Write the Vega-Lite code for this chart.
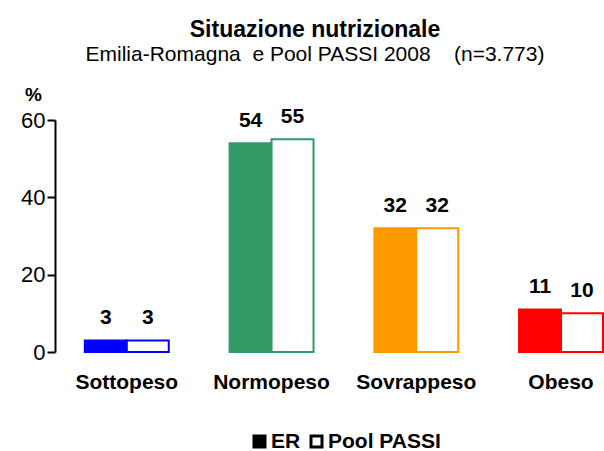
{
  "$schema": "https://vega.github.io/schema/vega-lite/v6.json",
  "autosize": "none",
  "width": 548,
  "height": 232,
  "padding": {"left": 55, "top": 120, "right": 1, "bottom": 99},
  "background": "white",
  "config": {
    "font": "Liberation Sans",
    "view": {"stroke": null}
  },
  "title": {
    "text": "Situazione nutrizionale",
    "subtitle": "Emilia-Romagna\u00a0\u00a0e Pool PASSI 2008\u00a0\u00a0\u00a0\u00a0(n=3.773)",
    "anchor": "middle",
    "frame": "group",
    "dx": -14,
    "offset": 20,
    "fontSize": 23,
    "fontWeight": "bold",
    "color": "black",
    "subtitleFontSize": 21,
    "subtitleColor": "black",
    "subtitlePadding": 2,
    "font": "Liberation Sans",
    "subtitleFont": "Liberation Sans"
  },
  "data": {
    "values": [
      {"cat": "Sottopeso", "serie": "ER", "value": 3},
      {"cat": "Sottopeso", "serie": "Pool PASSI", "value": 3},
      {"cat": "Normopeso", "serie": "ER", "value": 54},
      {"cat": "Normopeso", "serie": "Pool PASSI", "value": 55},
      {"cat": "Sovrappeso", "serie": "ER", "value": 32},
      {"cat": "Sovrappeso", "serie": "Pool PASSI", "value": 32},
      {"cat": "Obeso", "serie": "ER", "value": 11},
      {"cat": "Obeso", "serie": "Pool PASSI", "value": 10}
    ]
  },
  "encoding": {
    "x": {
      "field": "cat",
      "type": "nominal",
      "sort": ["Sottopeso", "Normopeso", "Sovrappeso", "Obeso"],
      "scale": {"paddingInner": 0.42, "paddingOuter": 0.103, "align": 1},
      "axis": {
        "title": null,
        "domain": false,
        "ticks": false,
        "labelAngle": 0,
        "labelFontSize": 21,
        "labelFontWeight": "bold",
        "labelColor": "black",
        "labelPadding": 19
      }
    },
    "xOffset": {
      "field": "serie",
      "type": "nominal",
      "scale": {"domain": ["ER", "Pool PASSI"], "paddingInner": 0, "paddingOuter": 0}
    },
    "y": {
      "field": "value",
      "type": "quantitative",
      "scale": {"domain": [0, 60], "nice": false},
      "axis": {
        "values": [0, 20, 40, 60],
        "grid": false,
        "domainColor": "black",
        "domainWidth": 2,
        "tickColor": "black",
        "tickWidth": 2,
        "tickSize": 8,
        "labelFontSize": 22,
        "labelColor": "black",
        "labelPadding": 2,
        "title": "%",
        "titleAngle": 0,
        "titleFontSize": 19,
        "titleFontWeight": "bold",
        "titleColor": "black",
        "titleAlign": "center",
        "titleBaseline": "alphabetic",
        "titleX": -22,
        "titleY": -20
      }
    }
  },
  "layer": [
    {
      "transform": [{"filter": "datum.serie === 'ER'"}],
      "mark": {"type": "bar", "strokeWidth": 2},
      "encoding": {
        "color": {
          "field": "cat",
          "type": "nominal",
          "scale": {"domain": ["Sottopeso", "Normopeso", "Sovrappeso", "Obeso"], "range": ["#0000FF", "#339966", "#FF9900", "#FF0000"]},
          "legend": null
        },
        "stroke": {
          "field": "cat",
          "type": "nominal",
          "scale": {"domain": ["Sottopeso", "Normopeso", "Sovrappeso", "Obeso"], "range": ["#0000FF", "#339966", "#FF9900", "#FF0000"]},
          "legend": null
        }
      }
    },
    {
      "transform": [{"filter": "datum.serie === 'Pool PASSI'"}],
      "mark": {"type": "bar", "fill": "white", "strokeWidth": 2},
      "encoding": {
        "stroke": {
          "field": "cat",
          "type": "nominal",
          "scale": {"domain": ["Sottopeso", "Normopeso", "Sovrappeso", "Obeso"], "range": ["#0000FF", "#339966", "#FF9900", "#FF0000"]},
          "legend": null
        }
      }
    },
    {
      "mark": {"type": "text", "baseline": "alphabetic", "dy": -16, "fontSize": 21, "fontWeight": "bold", "color": "black"},
      "encoding": {
        "text": {"field": "value", "type": "quantitative"}
      }
    },
    {
      "mark": {"type": "square", "opacity": 0, "size": 10},
      "encoding": {
        "fill": {
          "field": "serie",
          "type": "nominal",
          "scale": {"domain": ["ER", "Pool PASSI"], "range": ["black", "white"]},
          "legend": {
            "title": null,
            "orient": "none",
            "direction": "horizontal",
            "legendX": 194,
            "legendY": 311,
            "symbolType": "square",
            "symbolSize": 121,
            "symbolStrokeColor": "black",
            "symbolStrokeWidth": 3,
            "symbolOpacity": 1,
            "labelFontSize": 21,
            "labelFontWeight": "bold",
            "labelColor": "black",
            "labelOffset": 1,
            "columnPadding": 4,
            "padding": 0,
            "encode": {"symbols": {"update": {"opacity": {"value": 1}, "fillOpacity": {"value": 1}, "strokeOpacity": {"value": 1}, "strokeWidth": {"value": 3}, "stroke": {"value": "black"}, "size": {"value": 121}}}}
          }
        }
      }
    }
  ]
}
